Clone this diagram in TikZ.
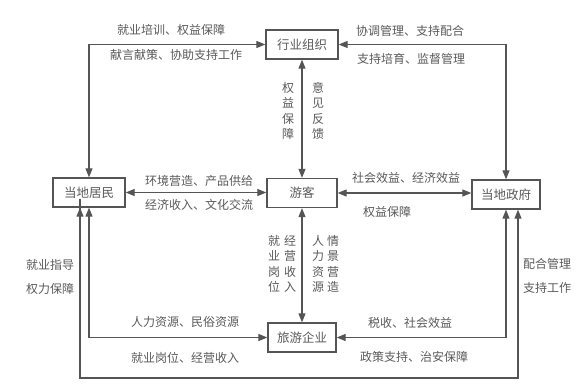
\documentclass[tikz,border=0pt]{standalone}
\usepackage{fontspec}
\setmainfont{Noto Sans CJK SC}
\usetikzlibrary{arrows.meta}
\definecolor{ln}{HTML}{555555}
\definecolor{tx}{HTML}{5A5A5A}
\begin{document}
\begin{tikzpicture}[x=1pt,y=-1pt,
  box/.style={draw=ln,line width=1.3pt,fill=white,minimum height=29pt,inner sep=2pt,text=tx,font=\fontsize{12.5}{14}\selectfont},
  lbl/.style={text=tx,font=\fontsize{12}{14}\selectfont,inner sep=1pt},
  vlbl/.style={text=tx,font=\fontsize{12}{15.5}\selectfont,align=center,inner sep=1pt},
  slbl/.style={text=tx,font=\fontsize{12}{24}\selectfont,align=center,inner sep=1pt},
  conn/.style={draw=ln,line width=1.1pt,{Triangle[length=9pt,width=7pt]}-{Triangle[length=9pt,width=7pt]}}]
\useasboundingbox[fill=white] (0,0) rectangle (586,389);
% boxes
\node[box,minimum width=72pt] (org) at (302,44.5) {行业组织};
\node[box,minimum width=72pt] (res) at (89,192.5) {当地居民};
\node[box,minimum width=70pt] (tour) at (302,193) {游客};
\node[box,minimum width=68pt] (gov) at (506,194.5) {当地政府};
\node[box,minimum width=68pt] (ent) at (302,337.5) {旅游企业};
% connectors
\draw[conn] (res.north) |- (org.west);
\draw[conn] (org.east) -| (gov.north);
\draw[conn] (org.south) -- (tour.north);
\draw[conn] (res.east) -- (res.east -| tour.west);
\draw[conn] (tour.east) -- (tour.east -| gov.west);
\draw[conn] (tour.south) -- (ent.north);
\draw[conn] (res.south) |- (ent.west);
\draw[conn] (gov.south) |- (ent.east);
\coordinate (bl) at (80,378);
\coordinate (br) at (518,378);
\draw[conn] ([xshift=-9pt]res.south) -- (res.south -| bl) -- (bl) -- (br) -- (gov.south -| br);
% labels
\node[lbl] (l1) at (171,30) {就业培训、权益保障};
\node[lbl] (l2) at (176,55) {献言献策、协助支持工作};
\node[lbl] (l3) at (410,31) {协调管理、支持配合};
\node[lbl] (l4) at (411,59) {支持培育、监督管理};
\node[vlbl] (l5) at (288,111) {权\\益\\保\\障};
\node[vlbl] (l6) at (318,111) {意\\见\\反\\馈};
\node[lbl] (l7) at (199,181) {环境营造、产品供给};
\node[lbl] (l8) at (199,205) {经济收入、文化交流};
\node[lbl] (l9) at (406,178) {社会效益、经济效益};
\node[lbl] (l10) at (387,212) {权益保障};
\node[vlbl] (l11) at (274,264) {就\\业\\岗\\位};
\node[vlbl] (l12) at (290,264) {经\\营\\收\\入};
\node[vlbl] (l13) at (318,264) {人\\力\\资\\源};
\node[vlbl] (l14) at (333,264) {情\\景\\营\\造};
\node[slbl] (l15) at (50,277) {就业指导\\权力保障};
\node[slbl] (l16) at (547,276) {配合管理\\支持工作};
\node[lbl] (l17) at (185,322) {人力资源、民俗资源};
\node[lbl] (l18) at (185,358) {就业岗位、经营收入};
\node[lbl] (l19) at (410,323) {税收、社会效益};
\node[lbl] (l20) at (414,357) {政策支持、治安保障};
\end{tikzpicture}
\end{document}
